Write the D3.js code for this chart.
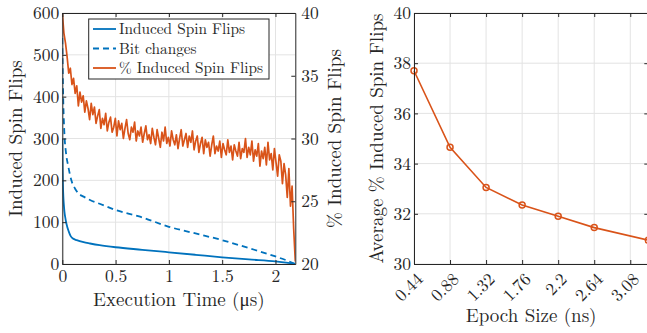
<!DOCTYPE html>
<html><head><meta charset="utf-8">
<script src="https://cdn.jsdelivr.net/npm/d3@7"></script>
<style>
body{margin:0;background:#fff}
svg{display:block}
text{font-family:"Latin Modern Roman","Liberation Serif",serif;fill:#262626}
</style>
</head><body>
<svg id="c" width="647" height="333"></svg>
<script>
// ---------- data ----------
const timeEnd = 2.186; // µs, last sample of the % series
const pctFlips = [40.0,38.4,37.6,36.5,35.2,35.6,34.3,34.8,33.6,34.2,
32.6,33.7,32.9,33.4,32.1,33.0,32.4,31.5,32.8,31.9,
32.5,31.2,31.8,32.3,30.8,31.6,31.1,32.0,30.6,31.3,
31.7,30.5,30.9,31.6,30.2,31.4,30.7,31.2,30.0,30.8,
31.5,30.4,29.9,30.9,30.5,31.3,29.8,30.6,30.2,30.9,
29.7,30.4,31.0,29.9,30.3,29.6,30.8,30.1,29.5,30.7,
30.0,29.3,30.5,29.8,30.9,29.6,30.1,29.4,30.6,29.9,
29.5,30.3,29.2,30.0,30.7,29.4,29.9,30.4,29.3,30.2,
29.7,30.6,29.1,29.8,30.2,28.9,29.6,30.1,28.8,29.9,
29.3,29.7,28.6,29.5,30.2,28.8,29.4,29.0,29.8,28.5,
29.6,29.1,28.7,29.9,28.9,29.4,28.3,29.5,29.0,28.6,
29.7,28.4,29.2,28.9,30.0,28.5,29.3,28.7,29.8,28.2,
29.1,28.6,29.6,27.8,29.0,28.4,29.3,27.9,29.7,28.3,
28.8,27.5,29.2,28.1,27.0,28.7,28.2,26.4,28.0,27.1,
25.3,27.6,24.6,26.2,22.8,20.2];
const flipsTime  = [0,0.003,0.006,0.01,0.015,0.02,0.03,0.04,0.06,0.08,0.1,0.135,0.2,0.26,0.35,0.5,0.75,1,1.25,1.5,1.75,2,2.1,2.186];
const flipsCount = [300,230,190,160,140,125,108,95,78,66,61,57,52,49,45,40,34,28,22,16,11,6.5,3.5,0];
const bitTime    = [0,0.003,0.006,0.01,0.015,0.02,0.035,0.055,0.085,0.12,0.15,0.2,0.26,0.35,0.5,0.73,1,1.25,1.5,1.75,2,2.1,2.186];
const bitCount   = [540,480,430,380,340,310,265,235,200,180,169,161,153,144,129,113,89,73,57,38,18,9,0];
const epochSizes = [0.44,0.88,1.32,1.76,2.2,2.64,3.3];
const avgPct     = [37.7,34.65,33.05,32.35,31.9,31.45,30.95];

const timeTicks   = [0,0.5,1,1.5,2];
const countTicks  = [0,100,200,300,400,500,600];
const pctTicks    = [20,25,30,35,40];
const epochTicks  = [0.44,0.88,1.32,1.76,2.2,2.64,3.08];
const avgTicks    = [30,32,34,36,38,40];
const legendLabels = ["Induced Spin Flips","Bit changes","% Induced Spin Flips"];

// ---------- setup ----------
const BLUE = "#0072BD", ORANGE = "#D95319", AX = "#262626", GRID = "#e3e3e3";
const FONT = '"Latin Modern Roman","Liberation Serif",serif';
const svg = d3.select("#c");
const yTop = 13, yBot = 264;
const TICK_FS = 17.5, LABEL_FS = 19, LEG_FS = 15.3;

const xL = d3.scaleLinear().domain([0, timeEnd]).range([62.3, 295.3]);
const yL = d3.scaleLinear().domain([0, 600]).range([yBot, yTop]);
const yR = d3.scaleLinear().domain([20, 40]).range([yBot, yTop]);
const xE = d3.scaleLinear().domain([0.44, 3.3]).range([414, 648.3]);
const yE = d3.scaleLinear().domain([30, 40]).range([yBot, yTop]);

function styleAxis(g){
  g.selectAll(".domain").attr("stroke",AX).attr("stroke-width",1);
  g.selectAll(".tick line").attr("stroke",AX).attr("stroke-width",1);
  g.attr("font-family",FONT);
  g.selectAll("text").attr("font-size",TICK_FS).style("font-family",FONT).attr("fill",AX);
}

// ---------- left chart ----------
const gl = svg.append("g");
const glGrid = gl.append("g");
glGrid.selectAll("line.v").data(timeTicks).join("line").attr("class","v")
  .attr("x1",d=>xL(d)).attr("x2",d=>xL(d)).attr("y1",yTop).attr("y2",yBot).attr("stroke",GRID);
glGrid.selectAll("line.h").data(countTicks).join("line").attr("class","h")
  .attr("x1",xL.range()[0]).attr("x2",xL.range()[1]).attr("y1",d=>yL(d)).attr("y2",d=>yL(d)).attr("stroke",GRID);

svg.append("clipPath").attr("id","clipL").append("rect")
  .attr("x",xL.range()[0]).attr("y",yTop).attr("width",xL.range()[1]-xL.range()[0]).attr("height",yBot-yTop);

const pctData = pctFlips.map((v,i)=>[i*timeEnd/(pctFlips.length-1), v]);
gl.append("path").datum(pctData).attr("clip-path","url(#clipL)")
  .attr("d", d3.line().x(d=>xL(d[0])).y(d=>yR(d[1])))
  .attr("fill","none").attr("stroke",ORANGE).attr("stroke-width",1.7).attr("stroke-linejoin","round");
gl.append("path").datum(bitTime.map((t,i)=>[t,bitCount[i]])).attr("clip-path","url(#clipL)")
  .attr("d", d3.line().curve(d3.curveMonotoneX).x(d=>xL(d[0])).y(d=>yL(d[1])))
  .attr("fill","none").attr("stroke",BLUE).attr("stroke-width",1.8).attr("stroke-dasharray","6,4");
gl.append("path").datum(flipsTime.map((t,i)=>[t,flipsCount[i]])).attr("clip-path","url(#clipL)")
  .attr("d", d3.line().curve(d3.curveMonotoneX).x(d=>xL(d[0])).y(d=>yL(d[1])))
  .attr("fill","none").attr("stroke",BLUE).attr("stroke-width",1.8);

// axes
const axB = gl.append("g").attr("transform",`translate(0,${yBot})`)
  .call(d3.axisBottom(xL).tickValues(timeTicks).tickFormat(d3.format("")).tickSizeInner(-4).tickSizeOuter(0).tickPadding(6));
styleAxis(axB);
const axT = gl.append("g").attr("transform",`translate(0,${yTop})`)
  .call(d3.axisTop(xL).tickValues(timeTicks).tickFormat("").tickSizeInner(-4).tickSizeOuter(0));
styleAxis(axT);
const axLy = gl.append("g").attr("transform",`translate(${xL.range()[0]},0)`)
  .call(d3.axisLeft(yL).tickValues(countTicks).tickSizeInner(-4).tickSizeOuter(0).tickPadding(3));
styleAxis(axLy);
const axRy = gl.append("g").attr("transform",`translate(${xL.range()[1]},0)`)
  .call(d3.axisRight(yR).tickValues(pctTicks).tickSizeInner(-4).tickSizeOuter(0).tickPadding(6));
styleAxis(axRy);

function label(g, tr, txt, fs){
  return g.append("text").attr("transform",tr).attr("text-anchor","middle")
    .attr("font-size",fs).style("font-family",FONT).attr("fill",AX).text(txt);
}
label(gl, `translate(${(xL.range()[0]+xL.range()[1])/2},306)`, "Execution Time (μs)", LABEL_FS);
label(gl, `translate(21.5,${(yTop+yBot)/2}) rotate(-90)`, "Induced Spin Flips", LABEL_FS);
label(gl, `translate(341,${(yTop+yBot)/2}) rotate(-90)`, "% Induced Spin Flips", LABEL_FS);

// legend
const leg = gl.append("g");
leg.append("rect").attr("x",88.7).attr("y",19).attr("width",180.3).attr("height",60)
  .attr("fill","#fff").attr("stroke",AX).attr("stroke-width",1);
const legStyles = [{c:BLUE,d:null},{c:BLUE,d:"6,4"},{c:ORANGE,d:null}];
legendLabels.forEach((lab,i)=>{
  const y = 29 + i*19.5;
  leg.append("line").attr("x1",93).attr("x2",116).attr("y1",y).attr("y2",y)
    .attr("stroke",legStyles[i].c).attr("stroke-width",1.8).attr("stroke-dasharray",legStyles[i].d);
  leg.append("text").attr("x",119).attr("y",y).attr("dy","0.33em").attr("font-size",LEG_FS)
    .style("font-family",FONT).attr("fill",AX).text(lab);
});

// ---------- right chart ----------
const gr = svg.append("g");
gr.selectAll("line.v").data(epochTicks).join("line").attr("class","v")
  .attr("x1",d=>xE(d)).attr("x2",d=>xE(d)).attr("y1",yTop).attr("y2",yBot).attr("stroke",GRID);
gr.selectAll("line.h").data(avgTicks).join("line").attr("class","h")
  .attr("x1",xE.range()[0]).attr("x2",xE.range()[1]).attr("y1",d=>yE(d)).attr("y2",d=>yE(d)).attr("stroke",GRID);

const ptData = epochSizes.map((e,i)=>[e,avgPct[i]]);
gr.append("path").datum(ptData)
  .attr("d", d3.line().x(d=>xE(d[0])).y(d=>yE(d[1])))
  .attr("fill","none").attr("stroke",ORANGE).attr("stroke-width",1.6);
gr.selectAll("circle").data(ptData).join("circle")
  .attr("cx",d=>xE(d[0])).attr("cy",d=>yE(d[1])).attr("r",3)
  .attr("fill","none").attr("stroke",ORANGE).attr("stroke-width",1.5);

const eB = gr.append("g").attr("transform",`translate(0,${yBot})`)
  .call(d3.axisBottom(xE).tickValues(epochTicks).tickFormat(d=>String(d)).tickSizeInner(-4).tickSizeOuter(0));
styleAxis(eB);
eB.selectAll(".tick text").attr("text-anchor","end").attr("y",0).attr("dy","0.35em")
  .attr("transform","translate(5,12) rotate(-45)");
const eT = gr.append("g").attr("transform",`translate(0,${yTop})`)
  .call(d3.axisTop(xE).tickValues(epochTicks).tickFormat("").tickSizeInner(-4).tickSizeOuter(0));
styleAxis(eT);
const eL = gr.append("g").attr("transform",`translate(${xE.range()[0]},0)`)
  .call(d3.axisLeft(yE).tickValues(avgTicks).tickSizeInner(-4).tickSizeOuter(0).tickPadding(3));
styleAxis(eL);
const eR = gr.append("g").attr("transform",`translate(${xE.range()[1]},0)`)
  .call(d3.axisRight(yE).tickValues(avgTicks).tickFormat("").tickSizeInner(-4).tickSizeOuter(0));
styleAxis(eR);

label(gr, `translate(${(xE.range()[0]+xE.range()[1])/2},322)`, "Epoch Size (ns)", LABEL_FS);
label(gr, `translate(383,${(yTop+yBot)/2}) rotate(-90)`, "Average % Induced Spin Flips", LABEL_FS);
</script>
</body></html>
